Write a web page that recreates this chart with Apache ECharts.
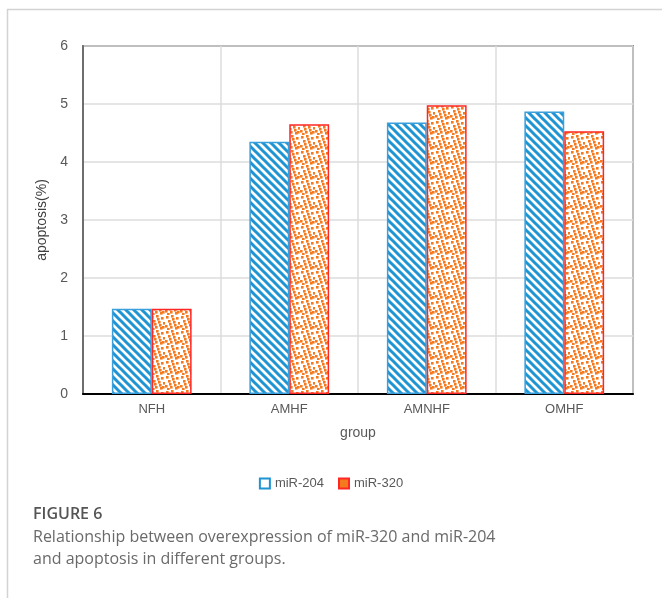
<!DOCTYPE html>
<html>
<head>
<meta charset="utf-8">
<script src="https://cdn.jsdelivr.net/npm/echarts@6/dist/echarts.min.js"></script>
<style>
  html, body { margin: 0; padding: 0; background: #fff; }
  #chart { width: 662px; height: 598px; }
</style>
</head>
<body>
<div id="chart"></div>
<script>
/* Datos */
const CATEGORIES = ["NFH", "AMHF", "AMNHF", "OMHF"];
const MIR204 = [1.47, 4.35, 4.68, 4.87];
const MIR320 = [1.47, 4.65, 4.98, 4.53];
const Y_TICKS = [0, 1, 2, 3, 4, 5, 6];

const BLUE = "#1E94D2";
const ORANGE = "#F57A1E";
const RED = "#FF2626";
const TEXT = "#595959";

// patrón de rayas diagonales
function stripeTile() {
  const c = document.createElement("canvas");
  c.width = 8; c.height = 8;
  const g = c.getContext("2d");
  g.fillStyle = "#fff"; g.fillRect(0, 0, 8, 8);
  g.strokeStyle = BLUE; g.lineWidth = 3;
  g.beginPath();
  g.moveTo(-2, -2); g.lineTo(10, 10);
  g.moveTo(-6, 2); g.lineTo(2, 10);
  g.moveTo(6, -2); g.lineTo(14, 6);
  g.stroke();
  return c;
}

// patrón de puntos irregulares
function dotTile() {
  const c = document.createElement("canvas");
  c.width = 15; c.height = 15;
  const g = c.getContext("2d");
  g.fillStyle = "#fff"; g.fillRect(0, 0, 15, 15);
  g.fillStyle = ORANGE;
  const pts = [[1,1],[6,0],[11,2],[3,5],[8,6],[13,7],[0,10],[5,11],[10,12],[12,11],[7,3],[2,13],[9,9],[4,8]];
  pts.forEach(([x, y]) => g.fillRect(x, y, 2.6, 2.6));
  return c;
}

const chart = echarts.init(document.getElementById("chart"));

chart.setOption({
  animation: false,
  textStyle: { fontFamily: "Liberation Sans, Arial, sans-serif" },
  grid: { left: 83, right: 29, top: 46, bottom: 204, show: true, borderColor: "#3a3a3a", borderWidth: 1.5 },
  legend: {
    top: 472, left: "center", itemWidth: 10, itemHeight: 10, itemGap: 14,
    textStyle: { color: TEXT, fontSize: 13 },
    data: [
      { name: "miR-204", icon: "rect", itemStyle: { color: "#fff", borderColor: BLUE, borderWidth: 2 } },
      { name: "miR-320", icon: "rect", itemStyle: { color: ORANGE, borderColor: RED, borderWidth: 2 } },
    ],
  },
  xAxis: {
    type: "category",
    data: CATEGORIES,
    name: "group",
    nameLocation: "middle",
    nameGap: 32,
    nameTextStyle: { color: TEXT, fontSize: 14 },
    axisLine: { lineStyle: { color: "#000", width: 2 } },
    axisTick: { show: false },
    axisLabel: { color: TEXT, fontSize: 13, margin: 9 },
    splitLine: { show: true, lineStyle: { color: "#DDDDDD", width: 1.5 } },
  },
  yAxis: {
    type: "value",
    min: Y_TICKS[0], max: Y_TICKS[Y_TICKS.length - 1], interval: 1,
    name: "apoptosis(%)",
    nameLocation: "middle",
    nameGap: 26,
    nameTextStyle: { color: "#404040", fontSize: 14 },
    axisLine: { show: true, lineStyle: { color: "#6E6E6E", width: 2 } },
    axisTick: { show: false },
    axisLabel: { color: TEXT, fontSize: 14, margin: 15 },
    splitLine: { lineStyle: { color: "#DDDDDD", width: 1.5 } },
  },
  series: [
    {
      name: "miR-204", type: "bar", data: MIR204,
      barGap: "0%", barCategoryGap: "42%",
      itemStyle: { color: { image: stripeTile(), repeat: "repeat" }, borderColor: "#3A9FDA", borderWidth: 1.5 },
    },
    {
      name: "miR-320", type: "bar", data: MIR320,
      itemStyle: { color: { image: dotTile(), repeat: "repeat" }, borderColor: RED, borderWidth: 1.5 },
    },
  ],
  graphic: [
    { type: "line", shape: { x1: 7, y1: 9.5, x2: 662, y2: 9.5 }, style: { stroke: "#D3D3D3", lineWidth: 1.5 } },
    { type: "line", shape: { x1: 7.5, y1: 9, x2: 7.5, y2: 598 }, style: { stroke: "#D3D3D3", lineWidth: 1.5 } },
    { type: "text", left: 33, top: 506, style: { text: "FIGURE 6", fill: "#555", font: "600 16px 'Open Sans', 'Noto Sans', sans-serif" } },
    { type: "text", left: 33, top: 529, style: { text: "Relationship between overexpression of miR-320 and miR-204", fill: "#6a6a6a", font: "16px 'Open Sans', 'Noto Sans', sans-serif" } },
    { type: "text", left: 33, top: 551, style: { text: "and apoptosis in different groups.", fill: "#6a6a6a", font: "16px 'Open Sans', 'Noto Sans', sans-serif" } },
  ],
});
</script>
</body>
</html>
